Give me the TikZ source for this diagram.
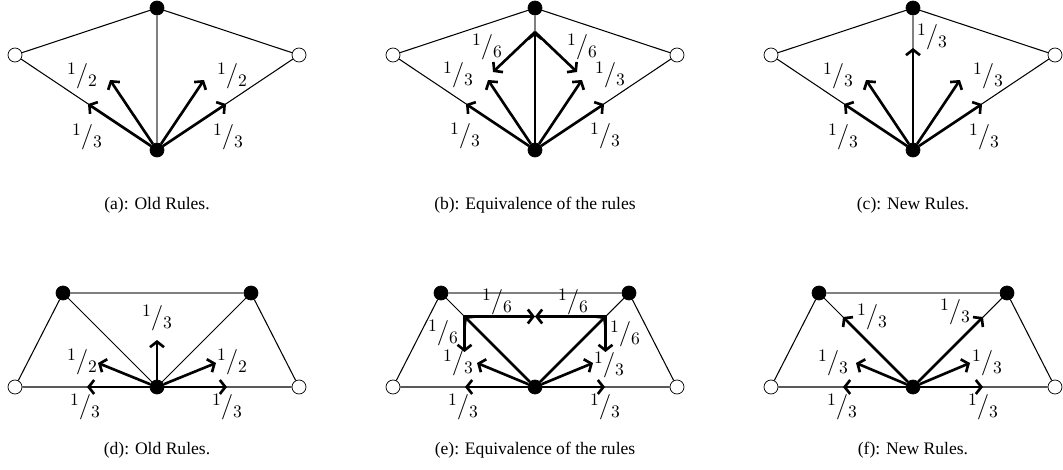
\documentclass[tikz,border=0pt]{standalone}
\usepackage{fontspec}
\setmainfont{Liberation Serif}
\usetikzlibrary{calc,arrows.meta,positioning}
\newcommand{\frc}[2]{\raisebox{0.3em}{$\scriptstyle#1$}$/$\raisebox{-0.18em}{$\scriptstyle#2$}}

\begin{document}
\begin{tikzpicture}[x=0.02cm,y=-0.02cm,>={Straight Barb[length=1.1mm,width=2.8mm]},font=\normalsize]
  \tikzset{
    dot/.style={circle,draw,fill=black,inner sep=0pt,minimum size=0.28cm},
    hole/.style={circle,draw,fill=white,inner sep=0pt,minimum size=0.28cm},
    edge/.style={line width=0.6pt},
    soft/.style={line width=0.7pt,black!50},
    flow/.style={->,line width=1.5pt},
    lab/.style={inner sep=0pt,font=\Large},
    captext/.style={inner sep=0pt}
  }
  \useasboundingbox (0,0) rectangle (1063,470);
  % top row: the two faces around a vertical edge
  \foreach \p/\x/\t in {a/157/{(a): Old Rules.},b/535/{(b): Equivalence of the rules},c/913/{(c): New Rules.}}{
    \begin{scope}[shift={(\x,150)}]
      \node[dot]  (\p-b) at (0,0) {};
      \node[dot]  (\p-t) at (0,-142) {};
      \node[hole] (\p-l) at (-142,-95) {};
      \node[hole] (\p-r) at (142,-95) {};
      \draw[edge] (\p-l) -- (\p-t) -- (\p-r) -- (\p-b) -- (\p-l);
      \draw[soft] (\p-t) -- (\p-b);
      \node[captext] (\p-cap) at (0,55) {\t};
    \end{scope}
  }
  % bottom row: the trapezium
  \foreach \p/\x/\t in {d/157/{(d): Old Rules.},e/535/{(e): Equivalence of the rules},f/913/{(f): New Rules.}}{
    \begin{scope}[shift={(\x,387)}]
      \node[dot]  (\p-b) at (0,0) {};
      \node[dot]  (\p-tl) at (-94,-94) {};
      \node[dot]  (\p-tr) at (94,-94) {};
      \node[hole] (\p-l) at (-142,0) {};
      \node[hole] (\p-r) at (142,0) {};
      \draw[edge] (\p-l) -- (\p-tl) -- (\p-b) -- (\p-tr) -- (\p-r) -- (\p-b) -- (\p-l);
      \draw[soft] (\p-tl) -- (\p-tr);
      \node[captext] (\p-cap) at (0,63) {\t};
    \end{scope}
  }

  % (a)
  \begin{scope}[shift={(157,150)}]
    \foreach \n/\x/\y in {e1/-69/-46,f1/-47/-70,f2/47/-70,e2/69/-46}{
      \coordinate (a-\n) at (\x,\y);
      \draw[flow] (a-b) -- (a-\n);}
    \node[lab] at (-75,-74) {\frc12};
    \node[lab] at (75,-74) {\frc12};
    \node[lab] at (-70,-13) {\frc13};
    \node[lab] at (71,-13) {\frc13};
  \end{scope}
  % (b)
  \begin{scope}[shift={(535,150)}]
    \coordinate (b-m) at (0,-118);
    \foreach \n/\x/\y in {e1/-69/-46,f1/-47/-70,f2/47/-70,e2/69/-46}{
      \coordinate (b-\n) at (\x,\y);
      \draw[flow] (b-b) -- (b-\n);}
    \draw[flow] (b-b) -- (b-m);
    \coordinate (b-g1) at (-42,-78);
    \coordinate (b-g2) at (42,-78);
    \draw[flow] (b-m) -- (b-g1);
    \draw[flow] (b-m) -- (b-g2);
    \node[lab] at (-48,-103) {\frc16};
    \node[lab] at (47,-103) {\frc16};
    \node[lab] at (-77,-75) {\frc13};
    \node[lab] at (75,-75) {\frc13};
    \node[lab] at (-70,-14) {\frc13};
    \node[lab] at (70,-14) {\frc13};
  \end{scope}
  % (c)
  \begin{scope}[shift={(913,150)}]
    \foreach \n/\x/\y in {e1/-69/-46,f1/-47/-70,v/0/-102,f2/47/-70,e2/69/-46}{
      \coordinate (c-\n) at (\x,\y);
      \draw[flow] (c-b) -- (c-\n);}
    \node[lab] at (19,-113) {\frc13};
    \node[lab] at (-75,-74) {\frc13};
    \node[lab] at (75,-74) {\frc13};
    \node[lab] at (-70,-13) {\frc13};
    \node[lab] at (71,-13) {\frc13};
  \end{scope}

  % (d)
  \begin{scope}[shift={(157,387)}]
    \foreach \n/\x/\y in {e1/-70/0,f1/-59/-24,v/0/-47,f2/59/-24,e2/70/0}{
      \coordinate (d-\n) at (\x,\y);
      \draw[flow] (d-b) -- (d-\n);}
    \node[lab] at (0,-69) {\frc13};
    \node[lab] at (-75,-25) {\frc12};
    \node[lab] at (75,-25) {\frc12};
    \node[lab] at (-72,20) {\frc13};
    \node[lab] at (70,20) {\frc13};
  \end{scope}
  % (e)
  \begin{scope}[shift={(535,387)}]
    \coordinate (e-cl) at (-70.5,-70.5);
    \coordinate (e-cr) at (70.5,-70.5);
    \coordinate (e-m)  at (0,-70.5);
    \coordinate (e-dl) at (-70.5,-35);
    \coordinate (e-dr) at (70.5,-35);
    \foreach \n/\x/\y in {e1/-70/0,f1/-58/-24,f2/58/-24,e2/70/0}{
      \coordinate (e-\n) at (\x,\y);
      \draw[flow] (e-b) -- (e-\n);}
    \draw[flow] (e-b) -- (e-cl);
    \draw[flow] (e-b) -- (e-cr);
    \draw[flow,<->] (e-dl) -- (e-cl) -- (e-m);
    \draw[flow,<->] (e-dr) -- (e-cr) -- (e-m);
    \node[lab] at (-38,-85) {\frc16};
    \node[lab] at (38,-85) {\frc16};
    \node[lab] at (-92,-54) {\frc16};
    \node[lab] at (90,-53) {\frc16};
    \node[lab] at (-77,-24) {\frc13};
    \node[lab] at (74,-22) {\frc13};
    \node[lab] at (-72,20) {\frc13};
    \node[lab] at (70,20) {\frc13};
  \end{scope}
  % (f)
  \begin{scope}[shift={(913,387)}]
    \foreach \n/\x/\y in {e1/-70/0,f1/-57/-24,t1/-70/-70,t2/70/-70,f2/57/-24,e2/70/0}{
      \coordinate (f-\n) at (\x,\y);
      \draw[flow] (f-b) -- (f-\n);}
    \node[lab] at (-41,-70) {\frc13};
    \node[lab] at (42,-75) {\frc13};
    \node[lab] at (-80,-24) {\frc13};
    \node[lab] at (74,-24) {\frc13};
    \node[lab] at (-71,20) {\frc13};
    \node[lab] at (70,20) {\frc13};
  \end{scope}
\end{tikzpicture}
\end{document}
